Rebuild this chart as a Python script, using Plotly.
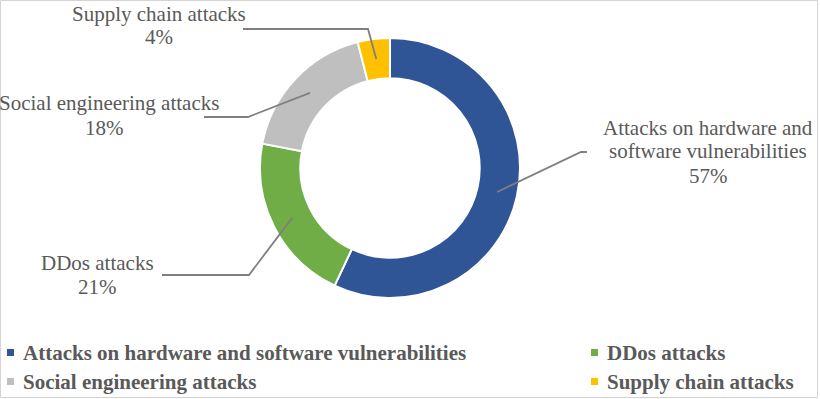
import math
import plotly.graph_objects as go

# ---- data ----
categories = ["Attacks on hardware and software vulnerabilities", "DDos attacks",
              "Social engineering attacks", "Supply chain attacks"]
values = [57, 21, 18, 4]
label_lines = [["Attacks on hardware and", "software vulnerabilities", "57%"],
               ["DDos attacks", "21%"],
               ["Social engineering attacks", "18%"],
               ["Supply chain attacks", "4%"]]
colors = ["#2F5597", "#70AD47", "#BFBFBF", "#FFC000"]

# ---- layout constants (pixels) ----
W, H = 820, 399
CX, CY, R_OUT, HOLE = 390, 168, 130, 0.69
R_MID = R_OUT * (1 + HOLE) / 2
FONT = "Liberation Serif, Times New Roman, serif"
TXT = "#595959"
LINE = "#7F7F7F"

# label placement: center x per line, line middle ys
label_pos = [([708, 708, 708], [128, 151, 176]), ([97, 97], [263, 287]),
             ([109, 104], [103, 128]), ([159, 159], [14, 37])]
# leader line elbow and end points
elbows = [((581, 152), (587, 152)), ((249, 275), (162, 275)),
          ((248, 117), (204, 117)), ((368, 29), (243, 29))]
# legend placement: (marker x, text x, middle y)
legend_pos = [(7, 21, 353), (591, 605, 353), (7, 21, 382), (591, 605, 382)]


def px(x):
    return x / W


def py(y):
    return 1 - y / H


fig = go.Figure()
fig.add_trace(go.Pie(
    labels=categories, values=values, hole=HOLE, sort=False, direction="clockwise",
    rotation=0, marker=dict(colors=colors, line=dict(color="white", width=2)),
    textinfo="none", hoverinfo="label+percent", showlegend=False,
    domain=dict(x=[px(CX - R_OUT), px(CX + R_OUT)], y=[py(CY + R_OUT), py(CY - R_OUT)]),
))

shapes = []
annotations = []
total = sum(values)
cum = 0
for i, v in enumerate(values):
    theta = 2 * math.pi * (cum + v / 2) / total
    cum += v
    sx = CX + R_MID * math.sin(theta)
    sy = CY - R_MID * math.cos(theta)
    (ex, ey), (fx, fy) = elbows[i]
    shapes.append(dict(type="path", xref="paper", yref="paper",
                       path=f"M {px(sx)} {py(sy)} L {px(ex)} {py(ey)} L {px(fx)} {py(fy)}",
                       line=dict(color=LINE, width=1.8)))
    lxs, lys = label_pos[i]
    for text, lx, ly in zip(label_lines[i], lxs, lys):
        annotations.append(dict(x=px(lx), y=py(ly), xref="paper", yref="paper",
                                text=text, showarrow=False, xanchor="center", yanchor="middle",
                                font=dict(family=FONT, size=21, color=TXT)))
    mx, tx, my = legend_pos[i]
    shapes.append(dict(type="rect", xref="paper", yref="paper",
                       x0=px(mx), x1=px(mx + 7), y0=py(my - 4), y1=py(my + 3),
                       fillcolor=colors[i], line=dict(width=0)))
    annotations.append(dict(x=px(tx), y=py(my), xref="paper", yref="paper",
                            text="<b>" + categories[i] + "</b>", showarrow=False,
                            xanchor="left", yanchor="middle",
                            font=dict(family=FONT, size=21, color=TXT)))

shapes.append(dict(type="rect", xref="paper", yref="paper",
                   x0=px(0.5), x1=px(817.5), y0=py(397.5), y1=py(0.5),
                   line=dict(color="#D4D4D4", width=1), fillcolor="rgba(0,0,0,0)"))

fig.update_layout(width=W, height=H, margin=dict(l=0, r=0, t=0, b=0),
                  paper_bgcolor="white", plot_bgcolor="white",
                  shapes=shapes, annotations=annotations)

fig.write_html("out.html", config={"displayModeBar": False},
               post_script="document.body.style.margin='0';document.body.style.overflow='hidden';")
